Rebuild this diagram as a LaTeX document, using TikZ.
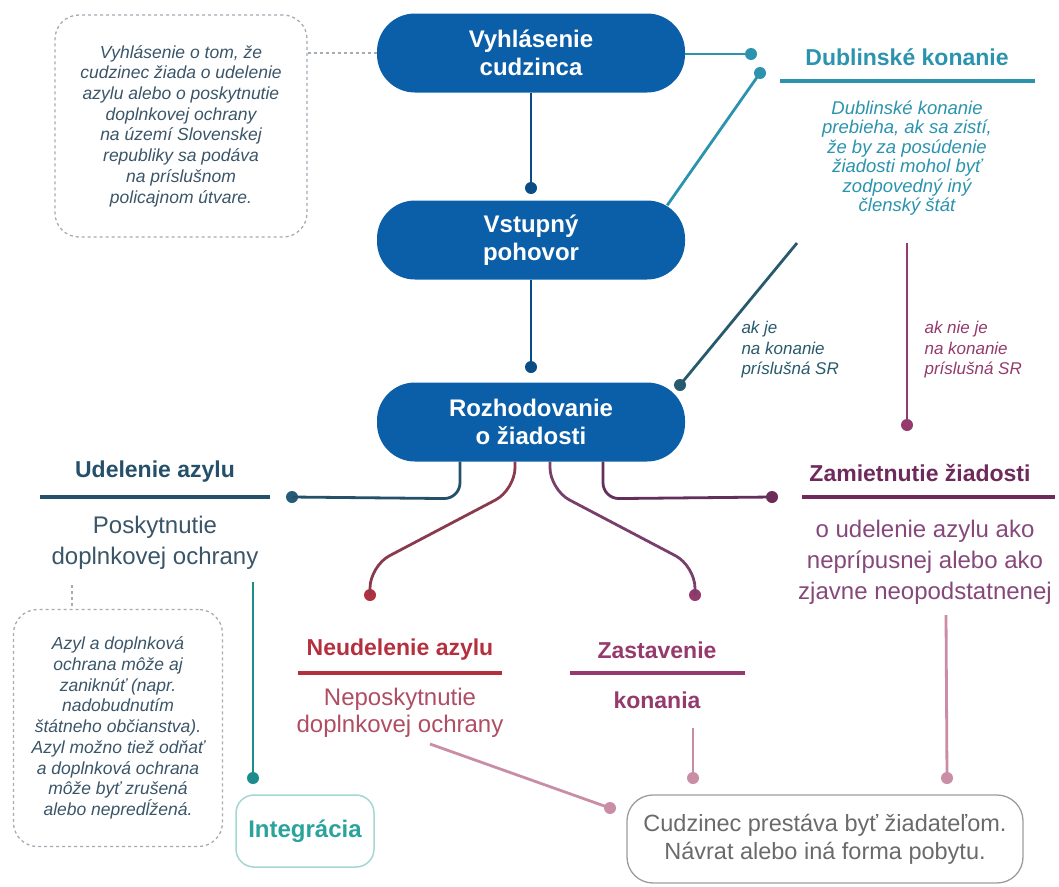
\documentclass[tikz,border=0pt]{standalone}
\usepackage{fontspec}
\setmainfont{Liberation Sans}
\usetikzlibrary{calc}

\definecolor{pillblue}{HTML}{0B5FA8}
\definecolor{notegray}{HTML}{A3ABB3}
\definecolor{notetext}{HTML}{3A5568}
\definecolor{dubteal}{HTML}{2B93AE}
\definecolor{darkteal}{HTML}{275A6C}
\definecolor{udnavy}{HTML}{24506A}
\definecolor{intteal}{HTML}{2AA39C}
\definecolor{intline}{HTML}{1E8C8E}
\definecolor{intbox}{HTML}{A4D6D3}
\definecolor{nered}{HTML}{B5303F}
\definecolor{nebody}{HTML}{B04D62}
\definecolor{zapurple}{HTML}{943A6C}
\definecolor{zmplum}{HTML}{6E2A5A}
\definecolor{zmbody}{HTML}{86487A}
\definecolor{pinkline}{HTML}{C98DA6}
\definecolor{endgray}{HTML}{9C9C9C}
\definecolor{endtext}{HTML}{6A6A6A}

\begin{document}
\begin{tikzpicture}[x=1pt, y=-1pt,
	every node/.style={text centered},
	pill/.style={rectangle, rounded corners=38pt, fill=pillblue, text=white,
		font=\fontsize{24}{28}\selectfont\bfseries, align=center,
		minimum width=308pt, minimum height=79pt},
	note/.style={rectangle, rounded corners=24pt, draw=notegray, dashed,
		line width=1.3pt, text=notetext, align=center,
		font=\fontsize{17.5}{20.7}\selectfont\itshape},
	head/.style={font=\fontsize{23}{27}\selectfont\bfseries},
	body/.style={font=\fontsize{24}{31}\selectfont, align=center},
	label/.style={font=\fontsize{17}{20.5}\selectfont\itshape, align=left, anchor=north west},
	pin/.style={circle, inner sep=0pt, minimum size=12pt},
	link/.style={line width=2.8pt},
	uline/.style={line width=4.5pt},
	endbox/.style={rectangle, rounded corners=26pt, draw=endgray, line width=1.3pt,
		text=endtext, font=\fontsize{23.5}{28}\selectfont, align=center,
		minimum width=396pt, minimum height=88pt}]

\useasboundingbox (0,0) rectangle (1059,886);

% main steps
\node[pill] (vyh) at (531,53) {Vyhlásenie\\cudzinca};
\node[pill] (vst) at (531,240) {Vstupný\\pohovor};
\node[pill] (rozh) at (531,422) {Rozhodovanie\\o žiadosti};

% notes
\node[note, minimum width=252pt, minimum height=222pt] (podanie) at (181,126)
	{Vyhlásenie o tom, že\\cudzinec žiada o udelenie\\azylu alebo o poskytnutie\\doplnkovej ochrany\\na území Slovenskej\\republiky sa podáva\\na príslušnom\\policajnom útvare.};
\node[note, minimum width=209pt, minimum height=237pt] (zanik) at (118,728)
	{Azyl a doplnková\\ochrana môže aj\\zaniknúť (napr.\\nadobudnutím\\štátneho občianstva).\\Azyl možno tiež odňať\\a doplnková ochrana\\môže byť zrušená\\alebo nepredĺžená.};

% Dublin
\node[head, text=dubteal] (dubH) at (907,57) {Dublinské konanie};
\draw[uline, dubteal] (780,81) -- (1035,81);
\node[font=\fontsize{18.5}{19.5}\selectfont\itshape, text=dubteal, align=center] (dubB) at (907,158)
	{Dublinské konanie\\prebieha, ak sa zistí,\\že by za posúdenie\\žiadosti mohol byť\\zodpovedný iný\\členský štát};
\coordinate (dubL) at (797,243);
\coordinate (dubR) at (907,243);
\node[label, text=darkteal] (akje) at (738,318) {ak je\\na konanie\\príslušná SR};
\node[label, text=zapurple] (aknie) at (921,318) {ak nie je\\na konanie\\príslušná SR};

% outcomes
\node[head, text=udnavy] (udH) at (155,472) {Udelenie azylu};
\draw[uline, udnavy] (40,497) -- (270,497);
\node[body, text=notetext] (udB) at (155,543) {Poskytnutie\\doplnkovej ochrany};
\coordinate (udBot) at (253,582);
\coordinate (udDash) at (72,585);
\node[rectangle, rounded corners=18pt, draw=intbox, line width=1.5pt, text=intteal,
	font=\fontsize{24}{28}\selectfont\bfseries, minimum width=138pt, minimum height=72pt]
	(integ) at (305,831) {Integrácia};

\node[head, text=nered] (neH) at (400,650) {Neudelenie azylu};
\draw[uline, nered] (298,673) -- (502,673);
\node[body, text=nebody, font=\fontsize{24}{27}\selectfont] (neB) at (400,713) {Neposkytnutie\\doplnkovej ochrany};
\coordinate (neBot) at (430,744);

\node[head, text=zapurple] (zaH) at (657,650) {Zastavenie};
\draw[uline, zapurple] (570,673) -- (745,673);
\node[head, text=zapurple] (zaB) at (657,700) {konania};
\coordinate (zaBot) at (693,728);

\node[head, text=zmplum] (zmH) at (920,473) {Zamietnutie žiadosti};
\draw[uline, zmplum] (802,497) -- (1055,497);
\node[body, text=zmbody] (zmB) at (925,562) {o udelenie azylu ako\\neprípusnej alebo ako\\zjavne neopodstatnenej};
\coordinate (zmBot) at (946,615);

\node[endbox] (koniec) at (825,839) {Cudzinec prestáva byť žiadateľom.\\Návrat alebo iná forma pobytu.};

% pins
\node[pin, fill=pillblue!80!black] (p1) at (531,188) {};
\node[pin, fill=pillblue!80!black] (p2) at (531,367) {};
\node[pin, fill=dubteal] (p3) at (751,54) {};
\node[pin, fill=dubteal] (p4) at (760,73) {};
\node[pin, fill=darkteal] (p5) at (680,385) {};
\node[pin, fill=zapurple] (p6) at (907,425) {};
\node[pin, fill=udnavy!80!dubteal] (p7) at (292,497) {};
\node[pin, fill=nered] (p8) at (370,595) {};
\node[pin, fill=zapurple] (p9) at (695,595) {};
\node[pin, fill=zmplum] (p10) at (772,497) {};
\node[pin, fill=intline] (p11) at (253,778) {};
\node[pin, fill=pinkline] (p12) at (610,808) {};
\node[pin, fill=pinkline] (p13) at (693,778) {};
\node[pin, fill=pinkline] (p14) at (947,778) {};

% connectors
\draw[link, pillblue!80!black] (vyh.south) -- (p1.center);
\draw[link, pillblue!80!black] (vst.south) -- (p2.center);
\draw[link, dubteal] (vyh.east |- p3) -- (p3.center);
\draw[link, dubteal] ([xshift=-18pt,yshift=-5pt]vst.north east) -- (p4.center);
\draw[link, darkteal] (dubL) -- (p5.center);
\draw[link, zapurple] (dubR) -- (p6.center);
\draw[dashed, line width=1.3pt, notegray] (vyh.west) -- (vyh.west -| podanie.east);
\draw[dashed, line width=1.3pt, notegray] (udDash) -- (udDash |- zanik.north);

\draw[link, udnavy, rounded corners=16pt] ([xshift=-71pt]rozh.south) -- ++(0,37) -- (p7.center);
\draw[link, nered!70!udnavy, rounded corners=22pt] ([xshift=-16pt]rozh.south) -- ++(0,28) -- (370,566) -- (p8.center);
\draw[link, zapurple!75!udnavy, rounded corners=22pt] ([xshift=19pt]rozh.south) -- ++(0,28) -- (695,566) -- (p9.center);
\draw[link, zmplum!85!udnavy, rounded corners=16pt] ([xshift=72pt]rozh.south) -- ++(0,37) -- (p10.center);

\draw[link, intline] (udBot) -- (p11.center);
\draw[link, pinkline] (neBot) -- (p12.center);
\draw[link, pinkline] (zaBot) -- (p13.center);
\draw[link, pinkline] (zmBot) -- (p14.center);
\end{tikzpicture}
\end{document}
